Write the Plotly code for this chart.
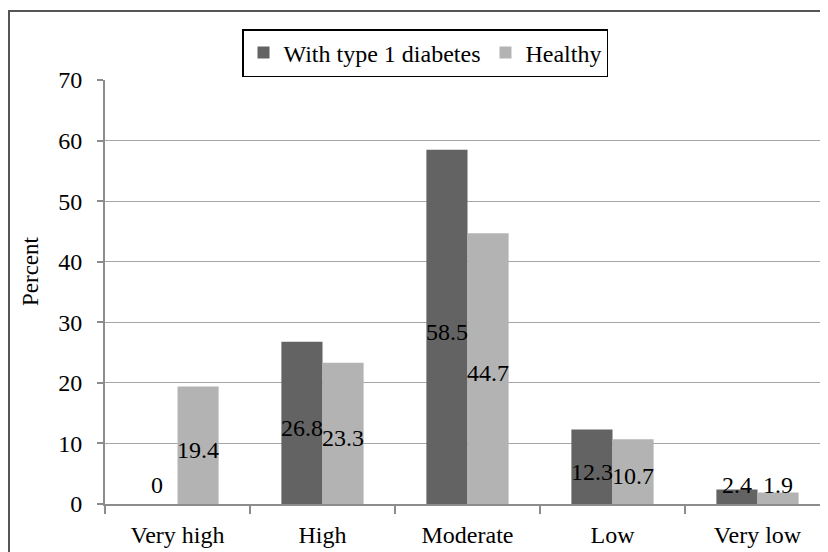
import plotly.graph_objects as go

categories = ["Very high", "High", "Moderate", "Low", "Very low"]
diabetes = [0, 26.8, 58.5, 12.3, 2.4]
healthy = [19.4, 23.3, 44.7, 10.7, 1.9]
series_names = ["With type 1 diabetes", "Healthy"]
y_ticks = [0, 10, 20, 30, 40, 50, 60, 70]

OFF = 8  # page body margin
W, H = 828, 552
ML, MR, MT, MB = 105 - OFF, 6, 80 - OFF, 552 - 504 + OFF
PW, PH = W - ML - MR, H - MT - MB
FONT = "Liberation Serif, Times New Roman, serif"
FS = 24
DARK, LIGHT = "#636363", "#b3b3b3"

def px_x(p):
    return (p - OFF - ML) / PW

def px_y(p):
    return (H - MB - (p - OFF)) / PH

fig = go.Figure()
fig.add_trace(go.Bar(x=categories, y=diabetes, name=series_names[0],
                     marker=dict(color=DARK, line=dict(width=0))))
fig.add_trace(go.Bar(x=categories, y=healthy, name=series_names[1],
                     marker=dict(color=LIGHT, line=dict(width=0))))

annotations = []
bar_px = PW / len(categories) * 0.567 / 2
for vals, shift in ((diabetes, -bar_px / 2), (healthy, bar_px / 2)):
    for c, v in zip(categories, vals):
        yv = max(v / 2 - 0.8, 3.2)
        annotations.append(dict(x=c, y=yv, xref="x", yref="y", text=f"{v:g}",
                                showarrow=False, xshift=shift,
                                xanchor="center", yanchor="middle",
                                font=dict(family=FONT, size=FS, color="#000")))

annotations.append(dict(x=px_x(30), y=px_y(271), xref="paper", yref="paper",
                        text="Percent", textangle=-90, showarrow=False,
                        xanchor="center", yanchor="middle",
                        font=dict(family=FONT, size=FS - 1, color="#000")))

fig.update_layout(
    width=W, height=H,
    margin=dict(l=ML, r=MR, t=MT, b=MB, pad=0),
    paper_bgcolor="white", plot_bgcolor="white",
    barmode="group", bargap=0.433, bargroupgap=0,
    font=dict(family=FONT, size=FS, color="#000"),
    showlegend=True,
    legend=dict(orientation="h", x=px_x(425), xanchor="center",
                y=px_y(29), yanchor="top",
                bordercolor="#000", borderwidth=1.5, bgcolor="white",
                font=dict(family=FONT, size=FS, color="#000"),
                itemsizing="constant", tracegroupgap=0),
    annotations=annotations,
    shapes=[dict(type="path", xref="paper", yref="paper",
                 path=f"M {px_x(9)} {px_y(580)} L {px_x(9)} {px_y(11)} L {px_x(850)} {px_y(11)}",
                 line=dict(color="#555", width=2))],
    xaxis=dict(type="category", showline=True, linecolor="#8c8c8c", linewidth=2,
               ticks="outside", tickson="boundaries", ticklen=8, tickcolor="#8c8c8c",
               tickwidth=1.5, showgrid=False, ticklabelstandoff=8,
               tickfont=dict(family=FONT, size=FS, color="#000")),
    yaxis=dict(range=[0, 70], tickvals=y_ticks, showline=True, linecolor="#8c8c8c",
               linewidth=2, ticks="outside", ticklen=6, tickcolor="#8c8c8c", tickwidth=1.5,
               showgrid=True, gridcolor="#a6a6a6", gridwidth=1.2, zeroline=False,
               ticklabelstandoff=10,
               tickfont=dict(family=FONT, size=FS, color="#000")),
)

fig.write_html("out.html")
